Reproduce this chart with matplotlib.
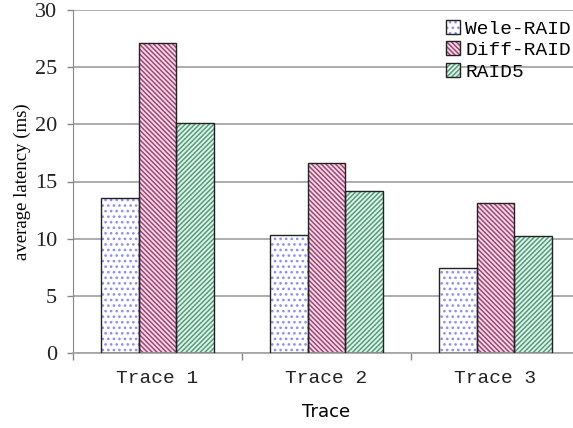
import matplotlib
matplotlib.use('Agg')
import matplotlib.pyplot as plt
import numpy as np

# data
traces = ['Trace 1', 'Trace 2', 'Trace 3']
wele_raid = [13.6, 10.3, 7.4]
diff_raid = [27.1, 16.6, 13.1]
raid5 = [20.1, 14.2, 10.2]
series_names = ['Wele-RAID', 'Diff-RAID', 'RAID5']

plt.rcParams['hatch.linewidth'] = 1.1

fig = plt.figure(figsize=(5.73, 4.28), dpi=100)
ax = fig.add_axes([73/573, 75/428, 507/573, 343/428])

x = np.arange(len(traces))
w = 0.222
styles = [
    # face, hatch colour, hatch
    ('white', '#8c8cff', '...'),
    ('#f5dbe7', '#a04677', '\\' * 7),
    ('#e6f3ec', '#4f9e7a', '/' * 7),
]

handles = []
for i, (vals, (face, hcol, hatch)) in enumerate(zip([wele_raid, diff_raid, raid5], styles)):
    pos = x + (i - 1) * w
    b1 = ax.bar(pos, vals, w, color=face, edgecolor=hcol, hatch=hatch, linewidth=0, zorder=2)
    b2 = ax.bar(pos, vals, w, fill=False, edgecolor='#222222', linewidth=1.0, zorder=3)
    handles.append((b1[0], b2[0]))

ax.set_xlim(-0.5, 2.5)
ax.set_ylim(0, 30)
ax.set_yticks(np.arange(0, 31, 5))
ax.yaxis.grid(True, color='#a6a6a6', linewidth=1.3, zorder=0)
ax.set_axisbelow(True)

ax.set_xticks(x)
ax.set_xticklabels(traces, family='Liberation Mono', fontsize=14, color='#222222')
ax.set_xticks([-0.5, 0.5, 1.5, 2.5], minor=True)
ax.tick_params(axis='x', which='major', length=0, pad=12)
ax.tick_params(axis='x', which='minor', length=5, color='#888888', width=1)
ax.tick_params(axis='y', length=4.3, color='#888888', width=1, pad=7)
for lab in ax.get_yticklabels():
    lab.set_family('Liberation Serif')
    lab.set_fontsize(16)
    lab.set_color('#222222')

for s in ['top', 'right']:
    ax.spines[s].set_visible(False)
ax.spines['left'].set_color('#888888')
ax.spines['bottom'].set_color('#a6a6a6')
ax.spines['bottom'].set_linewidth(1.3)

ax.set_ylabel('average latency (ms)', family='Liberation Serif', fontsize=13.5, labelpad=3)
ax.set_xlabel('Trace', family='DejaVu Sans', fontsize=13, labelpad=12)

fig.legend(handles, series_names, loc='upper left', bbox_to_anchor=(446/573, 1 - 20/428),
           frameon=False, prop={'family': 'Liberation Mono', 'size': 14},
           handlelength=0.7, handleheight=0.7, handletextpad=0.3,
           labelspacing=0.2, borderpad=0, borderaxespad=0)

fig.savefig('out.png', dpi=100)
